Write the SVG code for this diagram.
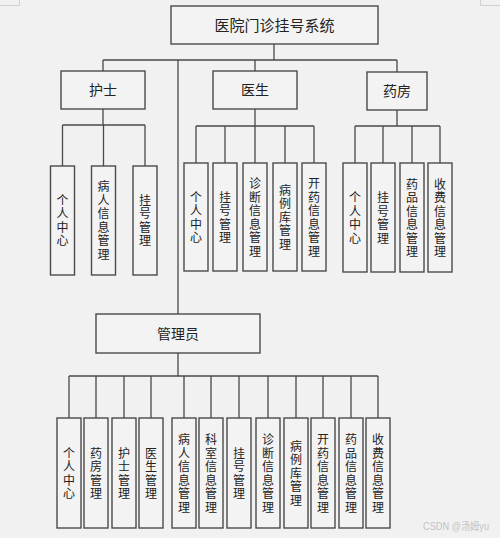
<svg xmlns="http://www.w3.org/2000/svg" width="500" height="538" viewBox="0 0 500 538">
<style>
.bg{fill:#f1f1f1}
.box{fill:#f3f3f3;stroke:#4a4a4a;stroke-width:1.4}
.ln{fill:none;stroke:#4a4a4a;stroke-width:1.3}
.t{font-family:"Noto Sans CJK SC","Noto Sans",sans-serif;fill:#222;text-anchor:middle}
.h{font-size:14px}
.v{font-size:12px;writing-mode:vertical-rl;letter-spacing:1.5px}
.wm{font-family:"Liberation Sans","Noto Sans CJK SC",sans-serif;font-size:10.5px;fill:#c4c4c4}
.cm{fill:none;stroke:#cfcfcf;stroke-width:1}
</style>
<rect class="bg" x="0" y="0" width="500" height="538"/>
<path class="cm" d="M0 5.5H19.5V0M500 5.5H480.5V0"/>
<g id="connectors">
<path class="ln" d="M274 44V60M103 60H397M103 60V71M255 60V71M397 60V72M178 60V314
M103 109V125M62.5 125H145M62.5 125V166M103.5 125V166M145 125V166
M255 109V126M196 126H314M196 126V163M225 126V163M255 126V163M285 126V163M314 126V163
M397 110V126M355 126H440M355 126V163M383 126V163M412 126V163M440 126V163
M178 353V376M69 376H378M69 376V418M96 376V418M124 376V418M151 376V418M184 376V418M211 376V418M239 376V418M268 376V418M296 376V418M323 376V418M351 376V418M378 376V418"/>
</g>
<g id="root"><rect class="box" x="171" y="6" width="207" height="38"/><text class="t" x="274.5" y="30.5" font-size="15">医院门诊挂号系统</text></g>
<g id="nurse"><rect class="box" x="61" y="71" width="84" height="38"/><text class="t h" x="103" y="95">护士</text></g>
<g id="doctor"><rect class="box" x="213" y="71" width="84" height="38"/><text class="t h" x="255" y="95">医生</text></g>
<g id="pharmacy"><rect class="box" x="367" y="72" width="60" height="38"/><text class="t h" x="397" y="96">药房</text></g>
<g id="admin"><rect class="box" x="96" y="314" width="164" height="39"/><text class="t h" x="178" y="339">管理员</text></g>

<g id="n1"><rect class="box" x="50.5" y="166" width="24" height="109"/><text class="t v" x="62.5" y="221">个人中心</text></g>
<g id="n2"><rect class="box" x="91.5" y="166" width="24" height="109"/><text class="t v" x="103.5" y="221">病人信息管理</text></g>
<g id="n3"><rect class="box" x="133" y="166" width="24" height="109"/><text class="t v" x="145" y="221">挂号管理</text></g>

<g id="d1"><rect class="box" x="184" y="163" width="24" height="108"/><text class="t v" x="196" y="218">个人中心</text></g>
<g id="d2"><rect class="box" x="213" y="163" width="24" height="108"/><text class="t v" x="225" y="218">挂号管理</text></g>
<g id="d3"><rect class="box" x="243" y="163" width="24" height="108"/><text class="t v" x="255" y="218">诊断信息管理</text></g>
<g id="d4"><rect class="box" x="273" y="163" width="24" height="108"/><text class="t v" x="285" y="218">病例库管理</text></g>
<g id="d5"><rect class="box" x="302" y="163" width="24" height="108"/><text class="t v" x="314" y="218">开药信息管理</text></g>

<g id="p1"><rect class="box" x="343" y="163" width="24" height="109"/><text class="t v" x="355" y="218.5">个人中心</text></g>
<g id="p2"><rect class="box" x="371" y="163" width="24" height="109"/><text class="t v" x="383" y="218.5">挂号管理</text></g>
<g id="p3"><rect class="box" x="400" y="163" width="24" height="109"/><text class="t v" x="412" y="218.5">药品信息管理</text></g>
<g id="p4"><rect class="box" x="428" y="163" width="24" height="109"/><text class="t v" x="440" y="218.5">收费信息管理</text></g>

<g id="a1"><rect class="box" x="57" y="418" width="24" height="110"/><text class="t v" x="69" y="474">个人中心</text></g>
<g id="a2"><rect class="box" x="84" y="418" width="24" height="110"/><text class="t v" x="96" y="474">药房管理</text></g>
<g id="a3"><rect class="box" x="112" y="418" width="24" height="110"/><text class="t v" x="124" y="474">护士管理</text></g>
<g id="a4"><rect class="box" x="139" y="418" width="24" height="110"/><text class="t v" x="151" y="474">医生管理</text></g>
<g id="a5"><rect class="box" x="172" y="418" width="24" height="110"/><text class="t v" x="184" y="474">病人信息管理</text></g>
<g id="a6"><rect class="box" x="199" y="418" width="24" height="110"/><text class="t v" x="211" y="474">科室信息管理</text></g>
<g id="a7"><rect class="box" x="227" y="418" width="24" height="110"/><text class="t v" x="239" y="474">挂号管理</text></g>
<g id="a8"><rect class="box" x="256" y="418" width="24" height="110"/><text class="t v" x="268" y="474">诊断信息管理</text></g>
<g id="a9"><rect class="box" x="284" y="418" width="24" height="110"/><text class="t v" x="296" y="474">病例库管理</text></g>
<g id="a10"><rect class="box" x="311" y="418" width="24" height="110"/><text class="t v" x="323" y="474">开药信息管理</text></g>
<g id="a11"><rect class="box" x="339" y="418" width="24" height="110"/><text class="t v" x="351" y="474">药品信息管理</text></g>
<g id="a12"><rect class="box" x="366" y="418" width="24" height="110"/><text class="t v" x="378" y="474">收费信息管理</text></g>

<text class="wm" x="423" y="530" textLength="66" lengthAdjust="spacingAndGlyphs">CSDN @汤姆yu</text>
</svg>
